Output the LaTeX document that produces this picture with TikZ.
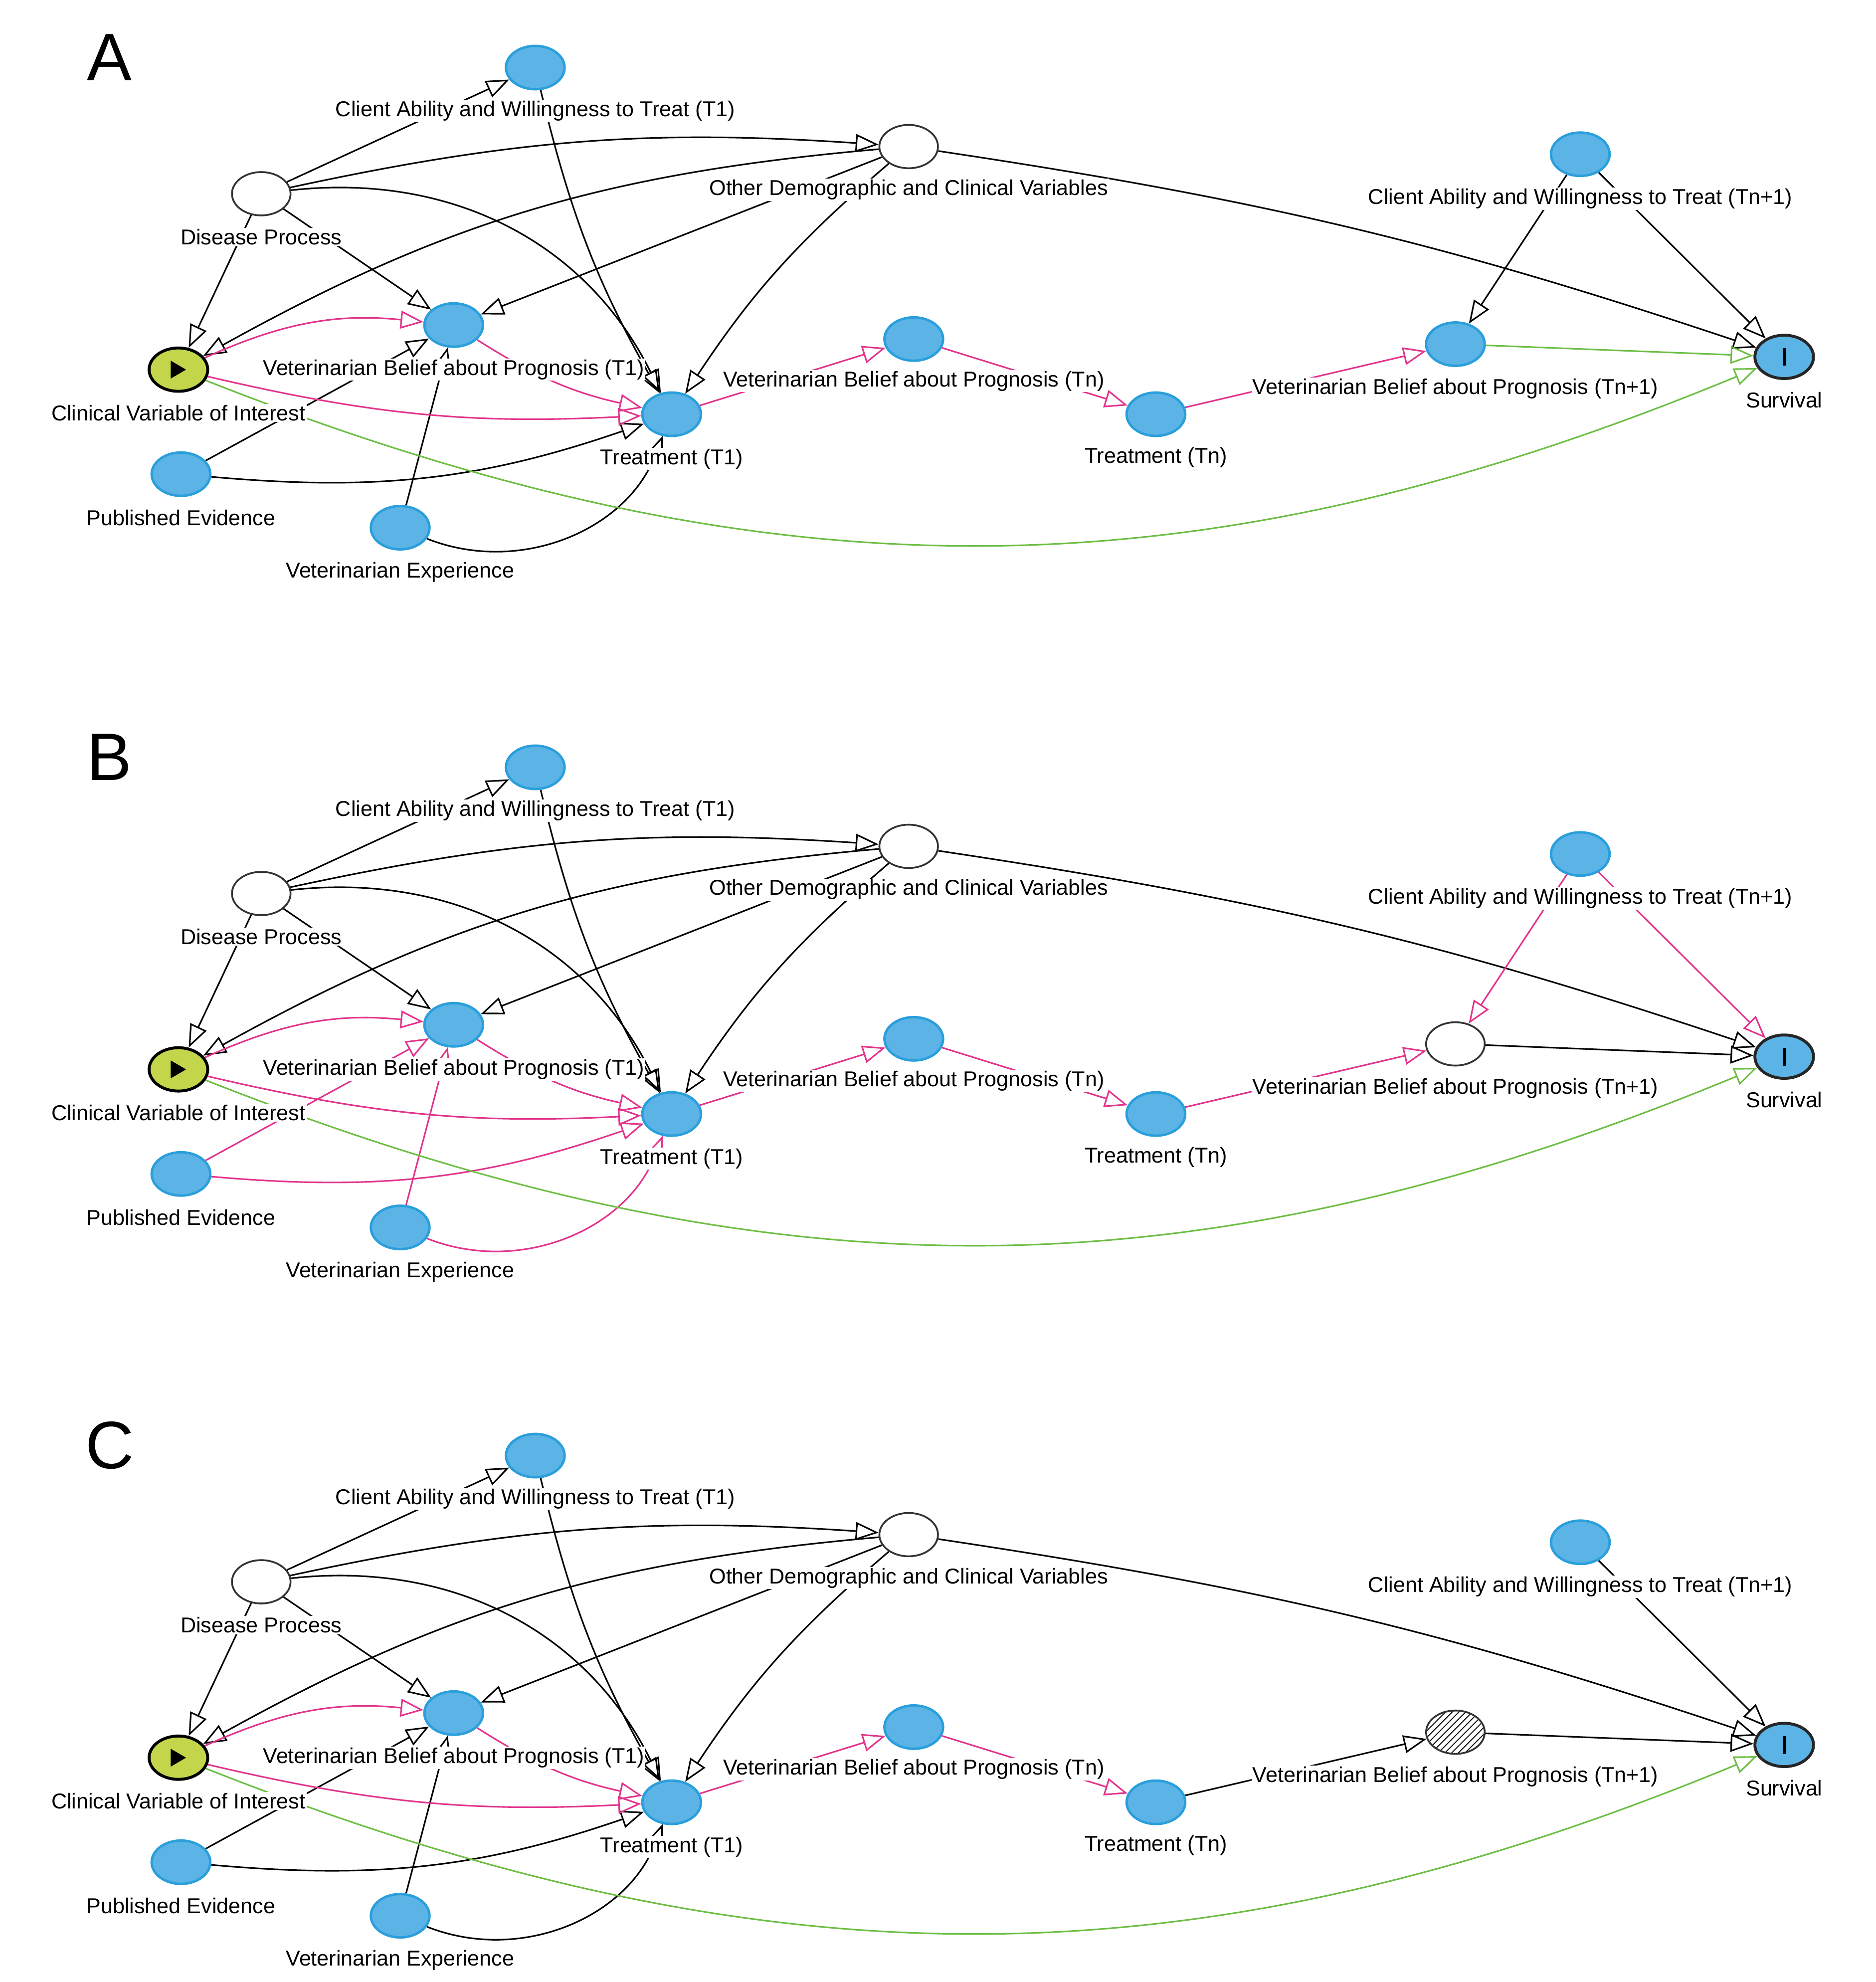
\documentclass[tikz,border=0pt]{standalone}
\usepackage{fontspec}
\setmainfont{Liberation Sans}
\usetikzlibrary{shapes.geometric,arrows.meta,patterns}
\definecolor{vblue}{HTML}{5BB4E5}
\definecolor{vborder}{HTML}{2A9FDB}
\definecolor{vpink}{HTML}{E2348C}
\definecolor{vgreen}{HTML}{6DBE45}
\definecolor{vlime}{HTML}{C3D64B}
\pgfdeclarelayer{bg}
\pgfsetlayers{bg,main}
\tikzset{
	var/.style={ellipse,draw=vborder,fill=vblue,line width=1.1pt,minimum width=0.92cm,minimum height=0.68cm,inner sep=0pt},
	wvar/.style={var,draw=black!80,fill=white,line width=0.8pt},
	lab/.style={fill=white,inner sep=0.5pt,font=\fontsize{9.6}{11}\selectfont},
	edge/.style={-{Triangle[open,length=0.36cm,width=0.28cm]},line width=0.7pt},
}
\begin{document}
\begin{tikzpicture}[x=0.02cm,y=-0.02cm]
	\useasboundingbox (0,0) rectangle (1472,1555);
	
	\foreach \p/\dy/\ec in {A/0/black,B/549/vpink,C/1089/black} {
		\begin{scope}[shift={(0,\dy)}]
			\node[font=\fontsize{30}{30}\selectfont] at (86,45) {\p};
			% variables
			\node[var] (cl\p) at (420,53) {};
			\node[wvar] (dis\p) at (205,152) {};
			\node[wvar] (oth\p) at (713,115) {};
			\node[var] (ctn\p) at (1240,121) {};
			\node[ellipse,draw=black,fill=vlime,line width=1.3pt,minimum width=0.92cm,minimum height=0.68cm] (civ\p) at (140,290) {};
			\fill (134,283) -- (134,297) -- (146,290) -- cycle;
			\node[var] (bel\p) at (356,255) {};
			\node[var] (trt\p) at (527,325) {};
			\node[var] (belt\p) at (717,266) {};
			\node[var] (trtn\p) at (907,325) {};
			\node[var,draw=black!85,line width=1.3pt] (sur\p) at (1400,280) {};
			\draw[line width=1.5pt] (1400,273) -- (1400,287);
			\node[var] (pub\p) at (142,372) {};
			\node[var] (exp\p) at (314,414) {};
			
			\begin{pgfonlayer}{bg}
				\draw[edge] (dis\p) -- (cl\p);
				\draw[edge] (dis\p) to[bend left=8] (oth\p);
				\draw[edge] (dis\p) -- (civ\p);
				\draw[edge] (dis\p) -- (bel\p);
				\draw[edge] (dis\p) to[bend left=35] (trt\p);
				\draw[edge] (oth\p) to[bend right=12] (civ\p);
				\draw[edge] (oth\p) -- (bel\p);
				\draw[edge] (oth\p) to[bend right=8] (trt\p);
				\draw[edge] (oth\p) to[bend left=5] (sur\p);
				\draw[edge] (cl\p) to[bend right=8] (trt\p);
				\draw[edge,\ec] (pub\p) -- (bel\p);
				\draw[edge,\ec] (pub\p) to[bend right=12] (trt\p);
				\draw[edge,\ec] (exp\p) -- (bel\p);
				\draw[edge,\ec] (exp\p) to[bend right=45] (trt\p);
				\draw[edge,vpink] (civ\p) to[bend left=15] (bel\p);
				\draw[edge,vpink] (civ\p) to[bend right=8] (trt\p);
				\draw[edge,vpink] (bel\p) to[bend right=10] (trt\p);
				\draw[edge,vpink] (trt\p) -- (belt\p);
				\draw[edge,vpink] (belt\p) -- (trtn\p);
				\draw[edge,vgreen] (civ\p) to[bend right=22] (sur\p);
			\end{pgfonlayer}
			
			% labels
			\node[lab] (lcl\p) at (420,87) {Client Ability and Willingness to Treat (T1)};
			\node[lab] (ldis\p) at (205,186) {Disease Process};
			\node[lab] (loth\p) at (713,149) {Other Demographic and Clinical Variables};
			\node[lab] (lctn\p) at (1240,156) {Client Ability and Willingness to Treat (Tn+1)};
			\node[lab] (lciv\p) at (140,324) {Clinical Variable of Interest};
			\node[lab] (lbel\p) at (356,290) {Veterinarian Belief about Prognosis (T1)};
			\node[lab] (ltrt\p) at (527,360) {Treatment (T1)};
			\node[lab] (lbelt\p) at (717,299) {Veterinarian Belief about Prognosis (Tn)};
			\node[lab] (ltrtn\p) at (907,359) {Treatment (Tn)};
			\node[lab] (lbeln\p) at (1142,305) {Veterinarian Belief about Prognosis (Tn+1)};
			\node[lab] (lsur\p) at (1400,314) {Survival};
			\node[lab] (lpub\p) at (142,406) {Published Evidence};
			\node[lab] (lexp\p) at (314,449) {Veterinarian Experience};
		\end{scope}
	}
	
	% last belief node differs per panel
	\node[var] (belnA) at (1142,270) {};
	\node[wvar] (belnB) at (1142,819) {};
	\node[wvar,pattern=north east lines] (belnC) at (1142,1359) {};
	
	\begin{pgfonlayer}{bg}
		\draw[edge] (ctnA) -- (belnA);
		\draw[edge] (ctnA) -- (surA);
		\draw[edge,vpink] (trtnA) -- (belnA);
		\draw[edge,vgreen] (belnA) -- (surA);
		
		\draw[edge,vpink] (ctnB) -- (belnB);
		\draw[edge,vpink] (ctnB) -- (surB);
		\draw[edge,vpink] (trtnB) -- (belnB);
		\draw[edge] (belnB) -- (surB);
		
		\draw[edge] (ctnC) -- (surC);
		\draw[edge] (trtnC) -- (belnC);
		\draw[edge] (belnC) -- (surC);
	\end{pgfonlayer}
\end{tikzpicture}
\end{document}
